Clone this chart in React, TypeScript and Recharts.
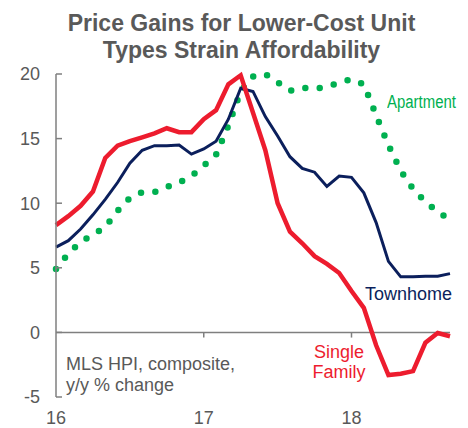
import React from "react"
import {
  LineChart,
  Line,
  XAxis,
  YAxis,
  ReferenceLine,
} from "recharts"

// monthly, Jan 2016 .. Sep 2018
const months = [
  "2016-01", "2016-02", "2016-03", "2016-04", "2016-05", "2016-06", "2016-07", "2016-08", "2016-09", "2016-10", "2016-11", "2016-12",
  "2017-01", "2017-02", "2017-03", "2017-04", "2017-05", "2017-06", "2017-07", "2017-08", "2017-09", "2017-10", "2017-11", "2017-12",
  "2018-01", "2018-02", "2018-03", "2018-04", "2018-05", "2018-06", "2018-07", "2018-08", "2018-09",
]
const singleFamily = [
  8.3, 9.0, 9.8, 10.9, 13.5, 14.45, 14.8, 15.1, 15.4, 15.8, 15.5, 15.5,
  16.5, 17.2, 19.2, 19.9, 17.0, 14.1, 10.0, 7.8, 6.9, 5.9, 5.3, 4.6,
  3.2, 1.9, -1.0, -3.3, -3.2, -3.0, -0.8, -0.05, -0.3,
]
const townhome = [
  6.6, 7.1, 8.0, 9.1, 10.3, 11.6, 13.1, 14.1, 14.45, 14.45, 14.5, 13.8,
  14.2, 14.8, 16.5, 18.9, 18.65, 16.7, 15.2, 13.6, 12.7, 12.4, 11.3, 12.1,
  12.0, 10.8, 8.5, 5.5, 4.3, 4.3, 4.35, 4.35, 4.55,
]
const apartment = [
  4.9, 6.1, 7.0, 7.55, 8.15, 9.4, 10.4, 10.85, 10.85, 11.25, 11.6, 12.1,
  12.9, 13.75, 16.0, 18.65, 19.8, 20.0, 19.35, 18.7, 18.95, 18.85, 19.0, 19.35,
  19.6, 19.2, 16.8, 14.5, 12.5, 11.1, 10.1, 9.35, 8.7,
]
const xTicks = ["2016-01", "2017-01", "2018-01"]
const yTicks = [-5, 0, 5, 10, 15, 20]

const data = months.map((m, i) => ({
  month: m,
  sf: singleFamily[i],
  th: townhome[i],
  apt: apartment[i],
}))

const GRAY = "#595959"
const AXIS = "#7f7f7f"
const FONT = "'Liberation Sans', Arial, sans-serif"

const label = (extra: React.CSSProperties): React.CSSProperties => ({
  position: "absolute",
  fontFamily: FONT,
  fontSize: 18,
  lineHeight: "21px",
  whiteSpace: "nowrap",
  ...extra,
})

export default function App() {
  return (
    <div style={{ position: "absolute", left: 0, top: 0, width: 468, height: 428, background: "#fff" }}>
      <div
        style={{
          position: "absolute",
          left: 0,
          top: 10,
          width: 483,
          textAlign: "center",
          fontFamily: FONT,
          fontWeight: "bold",
          fontSize: 23,
          lineHeight: "26.5px",
          color: GRAY,
        }}
      >
        Price Gains for Lower-Cost Unit
        <br />
        Types Strain Affordability
      </div>
      <LineChart
        width={468}
        height={428}
        data={data}
        margin={{ top: 74, right: 18, bottom: 0, left: 0 }}
        style={{ position: "absolute", left: 0, top: 0 }}
      >
        <XAxis
          dataKey="month"
          ticks={xTicks}
          tickFormatter={(v: string) => v.slice(2, 4)}
          axisLine={false}
          tickLine={false}
          tickSize={0}
          tickMargin={14}
          height={31}
          interval={0}
          tick={{ fill: GRAY, fontSize: 18, fontFamily: FONT }}
        />
        <YAxis
          domain={[-5, 20]}
          ticks={yTicks}
          width={56}
          stroke={AXIS}
          axisLine={{ stroke: AXIS, strokeWidth: 1.5 }}
          tickLine={{ stroke: AXIS, strokeWidth: 1.5 }}
          tickSize={-6}
          tickMargin={22}
          tick={{ fill: GRAY, fontSize: 18, fontFamily: FONT }}
        />
        <ReferenceLine y={0} stroke={AXIS} strokeWidth={1.5} />
        <ReferenceLine segment={[{ x: "2017-01", y: 0 }, { x: "2017-01", y: -0.4 }]} stroke={AXIS} strokeWidth={1.5} />
        <ReferenceLine segment={[{ x: "2018-01", y: 0 }, { x: "2018-01", y: -0.4 }]} stroke={AXIS} strokeWidth={1.5} />
        <Line
          dataKey="apt"
          stroke="#00b050"
          strokeWidth={6.5}
          strokeDasharray="0 14.5"
          strokeLinecap="round"
          dot={false}
          type="linear"
          isAnimationActive={false}
        />
        <Line
          dataKey="th"
          stroke="#0b1f5c"
          strokeWidth={3}
          dot={false}
          type="linear"
          isAnimationActive={false}
        />
        <Line
          dataKey="sf"
          stroke="#ed1c2e"
          strokeWidth={4.5}
          dot={false}
          type="linear"
          isAnimationActive={false}
        />
      </LineChart>
      {/* narrow face, squeezed */}
      <div
        style={label({
          left: 387,
          top: 91.5,
          color: "#00b050",
          transform: "scaleX(0.83)",
          transformOrigin: "left center",
        })}
      >
        Apartment
      </div>
      <div style={label({ left: 365, top: 283.5, color: "#0b1f5c" })}>Townhome</div>
      <div style={label({ left: 289, top: 342.3, width: 100, textAlign: "center", lineHeight: "20px", color: "#ed1c2e" })}>
        Single
        <br />
        Family
      </div>
      <div style={label({ left: 66, top: 353.8, lineHeight: "21.5px", color: GRAY })}>
        MLS HPI, composite,
        <br />
        y/y % change
      </div>
    </div>
  )
}
